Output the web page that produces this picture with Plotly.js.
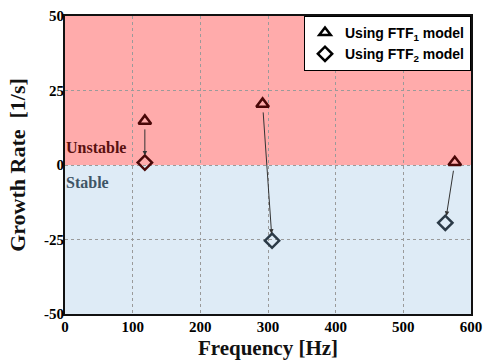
<!DOCTYPE html>
<html>
<head>
<meta charset="utf-8">
<script src="https://cdn.plot.ly/plotly-3.0.1.min.js"></script>
<style>html,body{margin:0;padding:0;background:#fff;}#chart{width:483px;height:361px;}</style>
</head>
<body>
<div id="chart"></div>
<script>
// Data
const ftf1Freq = [118, 292, 576];
const ftf1Growth = [14.8, 20.5, 0.9];
const ftf2Freq = [118, 306, 562];
const ftf2Growth = [0.8, -25.4, -19.4];
const xTicks = [0, 100, 200, 300, 400, 500, 600];
const yTicks = [-50, -25, 0, 25, 50];

const red = '#4a0808';
const slate = '#2b3a47';
function col(v){ return v >= 0.5 ? red : slate; }

const traces = [
  {x: ftf1Freq, y: ftf1Growth, mode: 'markers', type: 'scatter', showlegend: false,
   marker: {symbol: 'triangle-up-open', size: 11, color: ftf1Growth.map(col), line: {width: 2.5}}, cliponaxis: false},
  {x: ftf2Freq, y: ftf2Growth, mode: 'markers', type: 'scatter', showlegend: false,
   marker: {symbol: 'diamond-open', size: 11, color: ftf2Growth.map(col), line: {width: 2.5}}, cliponaxis: false},
  {x: [null], y: [null], mode: 'markers', type: 'scatter', name: '<b>Using FTF<sub>1</sub> model</b>',
   marker: {symbol: 'triangle-up-open', size: 10, color: '#000', line: {width: 2.5}}},
  {x: [null], y: [null], mode: 'markers', type: 'scatter', name: '<b>Using FTF<sub>2</sub> model</b>',
   marker: {symbol: 'diamond-open', size: 11, color: '#000', line: {width: 2.5}}}
];

const annotations = ftf1Freq.map((f, i) => ({
  x: ftf2Freq[i], y: ftf2Growth[i], ax: f, ay: ftf1Growth[i],
  xref: 'x', yref: 'y', axref: 'x', ayref: 'y',
  text: '', showarrow: true, arrowhead: 2, arrowsize: 0.9, arrowwidth: 1,
  arrowcolor: '#333', standoff: 7, startstandoff: 7
}));
annotations.push(
  {x: 0, y: 6, xref: 'x', yref: 'y', xanchor: 'left', yanchor: 'middle', text: '<b>Unstable</b>', showarrow: false,
   font: {family: 'Liberation Serif', size: 16, color: '#5a1010'}, xshift: -1},
  {x: 0, y: -6, xref: 'x', yref: 'y', xanchor: 'left', yanchor: 'middle', text: '<b>Stable</b>', showarrow: false,
   font: {family: 'Liberation Serif', size: 16, color: '#3e5566'}, xshift: -1}
);

const layout = {
  width: 483, height: 361,
  margin: {l: 65, r: 12, t: 16, b: 47},
  paper_bgcolor: '#fff', plot_bgcolor: '#fff',
  font: {family: 'Liberation Serif', color: '#000'},
  xaxis: {range: [0, 600], tickmode: 'array', tickvals: xTicks, ticktext: xTicks.map(v => '<b>' + v + '</b>'),
    ticks: '', showline: true, linecolor: '#111', linewidth: 2,
    mirror: true, showgrid: true, gridcolor: '#9a9a9a', griddash: 'dot', gridwidth: 1, zeroline: false,
    ticklabelstandoff: -2,
    tickfont: {family: 'Liberation Serif', size: 15, color: '#000'},
    title: {text: '<b>Frequency [Hz]</b>', font: {family: 'Liberation Serif', size: 21, color: '#111'}, standoff: 6}},
  yaxis: {range: [-50, 50], tickmode: 'array', tickvals: yTicks, ticktext: yTicks.map(v => '<b>' + v + '</b>'),
    ticks: '', showline: true, linecolor: '#111', linewidth: 2,
    mirror: true, showgrid: true, gridcolor: '#9a9a9a', griddash: 'dot', gridwidth: 1, zeroline: false,
    ticklabelstandoff: -4,
    tickfont: {family: 'Liberation Serif', size: 15, color: '#000'},
    title: {text: '<b>Growth Rate&nbsp;&nbsp;[1/s]</b>', font: {family: 'Liberation Serif', size: 22, color: '#111'}, standoff: 12}},
  shapes: [
    {type: 'rect', xref: 'x', yref: 'y', x0: 0, x1: 600, y0: 0, y1: 50, fillcolor: '#ffabab', line: {width: 0}, layer: 'below'},
    {type: 'rect', xref: 'x', yref: 'y', x0: 0, x1: 600, y0: -50, y1: 0, fillcolor: '#deebf6', line: {width: 0}, layer: 'below'}
  ],
  legend: {x: 1, y: 1, xanchor: 'right', yanchor: 'top', bgcolor: '#fff', bordercolor: '#000', borderwidth: 1,
    font: {family: 'Liberation Sans', size: 14, color: '#000'}, itemwidth: 30, tracegroupgap: 0},
  annotations: annotations,
  showlegend: true
};

Plotly.newPlot('chart', traces, layout, {displayModeBar: false, staticPlot: true});
</script>
</body>
</html>
